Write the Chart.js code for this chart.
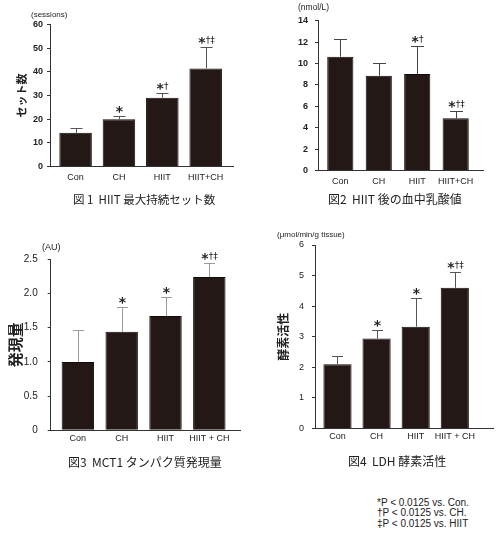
<!DOCTYPE html>
<html>
<head>
<meta charset="utf-8">
<script src="https://cdn.jsdelivr.net/npm/chart.js@4/dist/chart.umd.min.js"></script>
<style>
body { margin: 0; background: #fff; width: 500px; height: 540px; position: relative; overflow: hidden; color: #222; }
canvas { position: absolute; }
.lbl { position: absolute; white-space: nowrap; line-height: 1; transform: translateY(-50%); font-family: 'Liberation Sans', Arial, sans-serif; }
.cap { font-family: 'Noto Sans CJK JP', sans-serif; font-size: 12px; }
.unit { font-size: 8px; }
.note { font-size: 10px; }
</style>
</head>
<body>
<canvas id="c1"></canvas>
<canvas id="c2"></canvas>
<canvas id="c3"></canvas>
<canvas id="c4"></canvas>

<div class="lbl unit" style="left:31px;top:15px">(sessions)</div>
<div class="lbl unit" style="left:298px;top:7px;font-size:8.5px">(nmol/L)</div>
<div class="lbl unit" style="left:42px;top:247px;font-size:9px">(AU)</div>
<div class="lbl unit" style="left:277px;top:235px">(μmol/min/g tissue)</div>

<div class="lbl cap" style="left:73px;top:200px;font-size:11.5px">図 1&nbsp; HIIT 最大持続セット数</div>
<div class="lbl cap" style="left:328px;top:199px">図2&nbsp; HIIT 後の血中乳酸値</div>
<div class="lbl cap" style="left:68px;top:462px">図3&nbsp; MCT1 タンパク質発現量</div>
<div class="lbl cap" style="left:348px;top:461px">図4&nbsp; LDH 酵素活性</div>

<div class="lbl note" style="left:377px;top:503px">*P &lt; 0.0125 vs. Con.</div>
<div class="lbl note" style="left:377px;top:513px">†P &lt; 0.0125 vs. CH.</div>
<div class="lbl note" style="left:377px;top:524px">‡P &lt; 0.0125 vs. HIIT</div>

<script>
// groups
const groups = ['Con', 'CH', 'HIIT', 'HIIT+CH'];
const groupsSpaced = ['Con', 'CH', 'HIIT', 'HIIT + CH'];

// Fig 1: max sets
const sets = [14.3, 20.0, 29.1, 41.4];
const setsSd = [2.0, 1.4, 2.1, 9.0];
const setsMarks = ['', '*', '*†', '*†‡'];
const setsTicks = [0, 10, 20, 30, 40, 50, 60];

// Fig 2: blood lactate after HIIT
const lactate = [10.64, 8.87, 9.03, 4.89];
const lactateSd = [1.66, 1.21, 2.64, 0.71];
const lactateMarks = ['', '', '*†', '*†‡'];
const lactateTicks = [0, 2, 4, 6, 8, 10, 12, 14];

// Fig 3: MCT1 protein
const mct1 = [1.00, 1.44, 1.67, 2.24];
const mct1Sd = [0.46, 0.36, 0.28, 0.21];
const mct1Marks = ['', '*', '*', '*†‡'];
const mct1Ticks = [0, 0.5, 1.0, 1.5, 2.0, 2.5];

// Fig 4: LDH activity
const ldh = [2.10, 2.94, 3.33, 4.60];
const ldhSd = [0.27, 0.29, 0.93, 0.52];
const ldhMarks = ['', '*', '*', '*†‡'];
const ldhTicks = [0, 1, 2, 3, 4, 5, 6];

// error bars + significance marks
const errorBars = {
    id: 'errorBars',
    afterDatasetsDraw(chart, args, opts) {
        const { ctx, scales: { x, y } } = chart;
        const pts = chart.data.datasets[0].data;
        ctx.save();
        ctx.strokeStyle = opts.color;
        ctx.lineWidth = 1;
        pts.forEach((p, i) => {
            const px = Math.round(x.getPixelForValue(p.x)) + 0.5;
            const yBar = y.getPixelForValue(p.y);
            const yTop = Math.round(y.getPixelForValue(p.y + opts.sd[i])) + 0.5;
            ctx.beginPath();
            ctx.moveTo(px, yBar);
            ctx.lineTo(px, yTop);
            ctx.moveTo(px - opts.cap / 2, yTop);
            ctx.lineTo(px + opts.cap / 2, yTop);
            ctx.stroke();

            const mark = opts.marks[i];
            if (!mark) return;
            const star = mark[0];
            const rest = mark.slice(1);
            ctx.fillStyle = '#222';
            ctx.textAlign = 'left';
            ctx.textBaseline = 'alphabetic';
            ctx.font = 'bold ' + opts.starSize + 'px "DejaVu Sans"';
            const sm = ctx.measureText(star);
            const sw = sm.width;
            ctx.font = opts.dagSize + 'px "DejaVu Sans"';
            const dm = ctx.measureText(rest);
            const dw = rest ? dm.width : 0;
            const sx = px - (sw + dw) / 2;
            const centre = yTop - opts.gap;
            const base = centre + (sm.actualBoundingBoxAscent - sm.actualBoundingBoxDescent) / 2;
            ctx.font = 'bold ' + opts.starSize + 'px "DejaVu Sans"';
            ctx.fillText(star, sx, base);
            if (rest) {
                const starTop = base - sm.actualBoundingBoxAscent;
                ctx.font = opts.dagSize + 'px "DejaVu Sans"';
                ctx.fillText(rest, sx + sw, starTop - 1 + dm.actualBoundingBoxAscent);
            }
        });
        ctx.restore();
    }
};

const panels = [
    {
        id: 'c1', labels: groups, values: sets, sd: setsSd, marks: setsMarks, ticks: setsTicks,
        fmt: v => String(v), title: 'セット数', titleSize: 11, titlePad: 15,
        box: [0, 0, 250, 195], area: [50, 233, 24.3, 166.7], xRange: [-0.59, 3.63], barRatio: 0.75,
        tickFont: { size: 9, weight: 'bold' }, yPad: 4, xPad: 5, errColor: '#555', cap: 12
    },
    {
        id: 'c2', labels: groups, values: lactate, sd: lactateSd, marks: lactateMarks, ticks: lactateTicks,
        fmt: v => String(v), title: '',
        box: [250, 0, 250, 195], area: [318, 483, 20.7, 170.7], xRange: [-0.58, 3.71], barRatio: 0.68,
        tickFont: { size: 9, weight: 'bold' }, yPad: 7, xPad: 5, errColor: '#444', cap: 13
    },
    {
        id: 'c3', labels: groupsSpaced, values: mct1, sd: mct1Sd, marks: mct1Marks, ticks: mct1Ticks,
        fmt: v => (v === 0 ? '0' : v.toFixed(1)), title: '発現量', titleSize: 15, titlePad: 6,
        box: [0, 230, 250, 225], area: [50.7, 240, 259.3, 430.3], xRange: [-0.62, 3.70], barRatio: 0.74,
        tickFont: { size: 10 }, yPad: 10, xPad: 3, errColor: '#9a9a9a', cap: 11
    },
    {
        id: 'c4', labels: groupsSpaced, values: ldh, sd: ldhSd, marks: ldhMarks, ticks: ldhTicks,
        fmt: v => String(v), title: '酵素活性', titleSize: 12, titlePad: 26,
        box: [250, 230, 250, 225], area: [315, 493, 245, 428.5], xRange: [-0.575, 3.977], barRatio: 0.72,
        tickFont: { size: 9 }, yPad: 8, xPad: 3, errColor: '#555', cap: 11
    }
];

const X_HEIGHT = 20;

panels.forEach(p => {
    const [bx, by, bw, bh] = p.box;
    const [aL, aR, aT, aB] = p.area;
    const cv = document.getElementById(p.id);
    cv.width = bw;
    cv.height = bh;
    cv.style.left = bx + 'px';
    cv.style.top = by + 'px';

    new Chart(cv, {
        type: 'bar',
        data: {
            datasets: [{
                data: p.values.map((v, i) => ({ x: i, y: v })),
                backgroundColor: '#231815',
                borderColor: '#100a08',
                borderWidth: 1,
                categoryPercentage: 1,
                barPercentage: p.barRatio,
            }],
        },
        options: {
            responsive: false,
            animation: false,
            events: [],
            layout: {
                padding: { left: 0, top: aT - by, right: bx + bw - aR, bottom: by + bh - aB - X_HEIGHT },
            },
            plugins: {
                legend: { display: false },
                tooltip: { enabled: false },
                errorBars: {
                    sd: p.sd, marks: p.marks, color: p.errColor, cap: p.cap,
                    starSize: 14, dagSize: 9, gap: 7,
                },
            },
            scales: {
                x: {
                    type: 'linear',
                    offset: false,
                    min: p.xRange[0],
                    max: p.xRange[1],
                    afterBuildTicks: s => { s.ticks = p.labels.map((_, i) => ({ value: i })); },
                    afterFit: s => { s.height = X_HEIGHT; },
                    grid: { display: false, drawTicks: false, offset: false },
                    border: { color: '#333' },
                    ticks: {
                        callback: v => p.labels[v] ?? '',
                        autoSkip: false,
                        maxRotation: 0,
                        padding: p.xPad,
                        color: '#222',
                        font: { family: 'Liberation Sans', size: 9 },
                    },
                },
                y: {
                    min: p.ticks[0],
                    max: p.ticks[p.ticks.length - 1],
                    afterBuildTicks: s => { s.ticks = p.ticks.map(v => ({ value: v })); },
                    afterFit: s => { s.width = aL - bx; },
                    grid: { drawOnChartArea: false, tickLength: 3, color: '#333' },
                    border: { color: '#333' },
                    ticks: {
                        callback: p.fmt,
                        padding: p.yPad,
                        color: '#222',
                        font: Object.assign({ family: 'Liberation Sans' }, p.tickFont),
                    },
                    title: {
                        display: !!p.title,
                        text: p.title,
                        color: '#222',
                        font: { family: 'Noto Sans CJK JP', size: p.titleSize || 11, weight: 'bold' },
                        padding: { top: p.titlePad || 0, bottom: 0 },
                    },
                },
            },
        },
        plugins: [errorBars],
    });
});
</script>
</body>
</html>
